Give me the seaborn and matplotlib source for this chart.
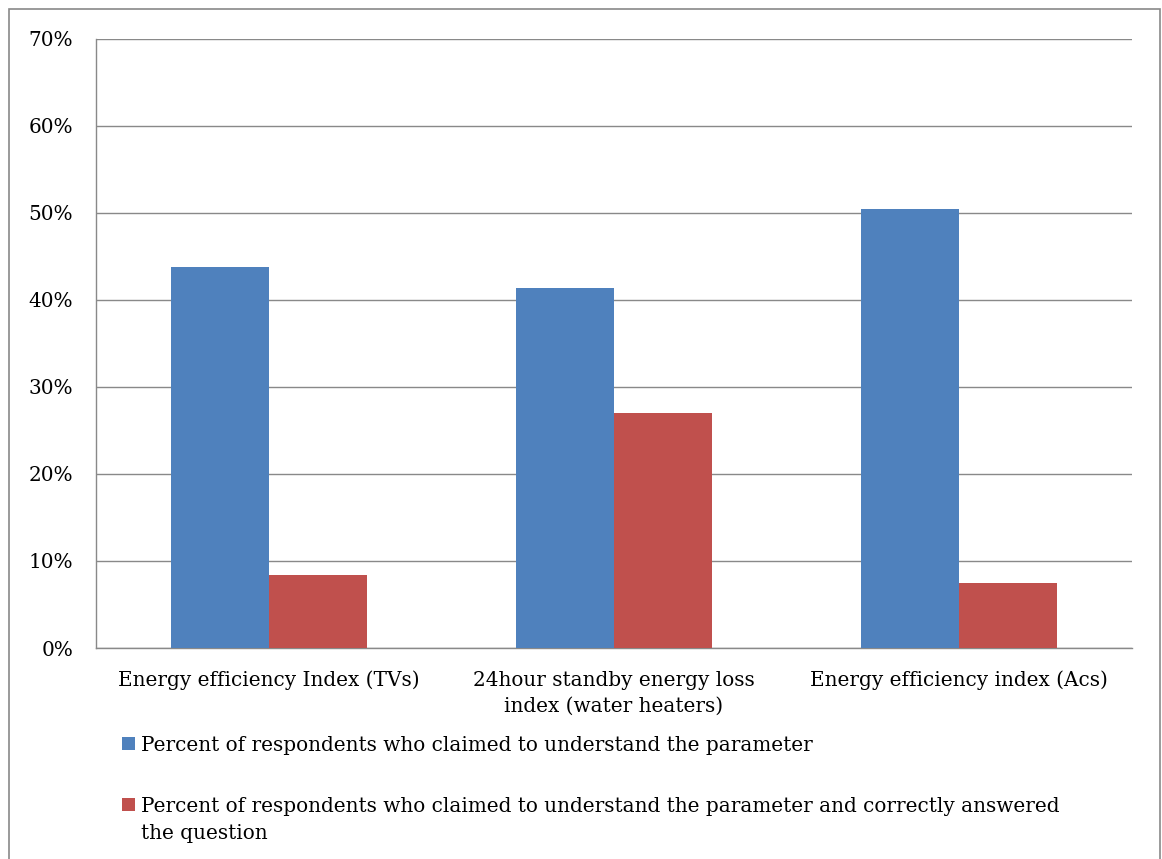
import matplotlib
matplotlib.use("Agg")
import matplotlib.pyplot as plt
import matplotlib.patches as mpatches
import seaborn as sns
import pandas as pd

categories = ["Energy efficiency Index (TVs)",
              "24hour standby energy loss\nindex (water heaters)",
              "Energy efficiency index (Acs)"]
series_names = ["Percent of respondents who claimed to understand the parameter",
                "Percent of respondents who claimed to understand the parameter and correctly answered\nthe question"]
understood = [43.8, 41.4, 50.5]
understood_correct = [8.4, 27.0, 7.5]
y_ticks = [0, 10, 20, 30, 40, 50, 60, 70]
colors = ["#4F81BD", "#C0504D"]

df = pd.DataFrame({
    "category": categories * 2,
    "series": [series_names[0]] * 3 + [series_names[1]] * 3,
    "value": understood + understood_correct,
})

sns.set_theme(style="white")
plt.rcParams["font.family"] = ["DejaVu Serif"]
plt.rcParams["text.color"] = "black"
plt.rcParams["xtick.labelcolor"] = "black"
plt.rcParams["ytick.labelcolor"] = "black"
grid_color = "#898989"
fs = 14.4
W, H = 1162, 859

fig = plt.figure(figsize=(W / 100, H / 100), dpi=100)
ax = fig.add_axes([96 / W, 1 - 648 / H, (1132 - 96) / W, (648 - 39) / H])

sns.barplot(data=df, x="category", y="value", hue="series", order=categories,
            hue_order=series_names, palette=colors, width=0.568, gap=0,
            saturation=1, linewidth=0, ax=ax, legend=False, zorder=3)

ax.set_ylim(0, 70)
ax.set_xlim(-0.5, 2.5)
ax.set_yticks(y_ticks)
ax.set_yticklabels([f"{t}%" for t in y_ticks], fontsize=fs)
ax.set_xticks([-0.5, 0.5, 1.5, 2.5])
ax.set_xticklabels([])
ax.set_xticks([0, 1, 2], minor=True)
ax.set_xticklabels(categories, minor=True, fontsize=fs, linespacing=1.47)
ax.tick_params(axis="x", which="minor", length=0, pad=16.3)
ax.tick_params(axis="x", which="major", length=5, width=1, color=grid_color, direction="out")
ax.tick_params(axis="y", length=5, width=1, color=grid_color, direction="out", pad=11.5)
ax.set_xlabel("")
ax.set_ylabel("")
ax.yaxis.grid(True, color=grid_color, linewidth=1)
ax.set_axisbelow(True)
for side in ["top", "right"]:
    ax.spines[side].set_visible(False)
for side in ["left", "bottom"]:
    ax.spines[side].set_color(grid_color)
    ax.spines[side].set_linewidth(1)

# Legend: colour square beside the first line of each series name
entry_tops = [737, 798]
for color, name, top in zip(colors, series_names, entry_tops):
    fig.patches.append(mpatches.Rectangle((122 / W, 1 - (top + 13) / H), 13 / W, 13 / H,
                                          transform=fig.transFigure, facecolor=color,
                                          edgecolor="none"))
    for i, line in enumerate(name.split("\n")):
        baseline = top + 14 + 27 * i
        fig.text(141 / W, 1 - baseline / H, line, fontsize=fs, va="baseline", ha="left")

fig.patches.append(mpatches.Rectangle((9 / W, -0.05), (1160 - 9) / W, 1.05 - 9 / H,
                                      transform=fig.transFigure, fill=False,
                                      edgecolor=grid_color, linewidth=1.2))

fig.savefig("out.png", dpi=100)
